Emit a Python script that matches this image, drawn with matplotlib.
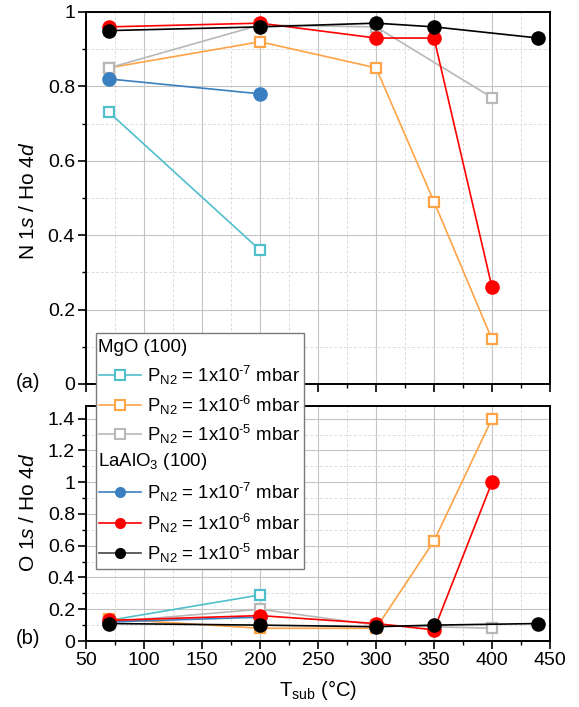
import matplotlib
matplotlib.use("Agg")
import matplotlib.pyplot as plt
from matplotlib.lines import Line2D
from matplotlib.patches import Rectangle
from matplotlib.ticker import MultipleLocator, FuncFormatter

plt.rcParams['font.family'] = ['Liberation Sans', 'DejaVu Sans']
plt.rcParams['mathtext.fontset'] = 'custom'
plt.rcParams['mathtext.rm'] = 'Liberation Sans'
plt.rcParams['mathtext.it'] = 'Liberation Sans:italic'
plt.rcParams['mathtext.bf'] = 'Liberation Sans:bold'

# ---------------- data ----------------
# N 1s / Ho 4d (panel a)
mgo7_T_a = [70, 200]
mgo7_a = [0.73, 0.36]
mgo6_T_a = [70, 200, 300, 350, 400]
mgo6_a = [0.85, 0.92, 0.85, 0.49, 0.12]
mgo5_T_a = [70, 200, 300, 400]
mgo5_a = [0.85, 0.965, 0.96, 0.77]
lao7_T_a = [70, 200]
lao7_a = [0.82, 0.78]
lao6_T_a = [70, 200, 300, 350, 400]
lao6_a = [0.96, 0.97, 0.93, 0.93, 0.26]
lao5_T_a = [70, 200, 300, 350, 440]
lao5_a = [0.95, 0.96, 0.97, 0.96, 0.93]

# O 1s / Ho 4d (panel b)
mgo7_T_b = [70, 200]
mgo7_b = [0.13, 0.29]
mgo6_T_b = [70, 200, 300, 350, 400]
mgo6_b = [0.14, 0.08, 0.08, 0.63, 1.40]
mgo5_T_b = [70, 200, 300, 400]
mgo5_b = [0.12, 0.20, 0.10, 0.08]
lao7_T_b = [70, 200]
lao7_b = [0.12, 0.15]
lao6_T_b = [70, 200, 300, 350, 400]
lao6_b = [0.13, 0.16, 0.11, 0.07, 1.00]
lao5_T_b = [70, 200, 300, 350, 440]
lao5_b = [0.11, 0.10, 0.09, 0.10, 0.11]

series_labels = [r'P$_{\mathrm{N2}}$ = 1x10$^{\text{-7}}$ mbar',
                 r'P$_{\mathrm{N2}}$ = 1x10$^{\text{-6}}$ mbar',
                 r'P$_{\mathrm{N2}}$ = 1x10$^{\text{-5}}$ mbar']
group_labels = ['MgO (100)', r'LaAlO$_3$ (100)']

c_cyan = '#4fbfcc'
c_orange = '#ffa347'
c_gray = '#b8b8b8'
c_blue = '#3a7fc0'
c_red = '#ff0000'
c_black = '#000000'

W, H = 579, 707
fig = plt.figure(figsize=(W / 100, H / 100), dpi=100)

def fx(px):
    return px / W

def fy(py):
    return 1 - py / H

ax1 = fig.add_axes([fx(86), fy(384), fx(550) - fx(86), fy(12) - fy(384)])
ax2 = fig.add_axes([fx(86), fy(641), fx(550) - fx(86), fy(406) - fy(641)])

sq = dict(marker='s', markersize=7.5, markerfacecolor='white', markeredgewidth=1.6, lw=1.2)
ci = dict(marker='o', markersize=10.5, markeredgewidth=0, lw=1.2)

def draw(ax, data):
    (t1, v1), (t2, v2), (t3, v3), (t4, v4), (t5, v5), (t6, v6) = data
    ax.plot(t1, v1, color=c_cyan, markeredgecolor=c_cyan, zorder=3, **sq)
    ax.plot(t2, v2, color=c_orange, markeredgecolor=c_orange, zorder=3, **sq)
    ax.plot(t3, v3, color=c_gray, markeredgecolor=c_gray, zorder=3, **sq)
    ax.plot(t4, v4, color=c_blue, markerfacecolor=c_blue, zorder=4, **ci)
    ax.plot(t5, v5, color=c_red, markerfacecolor=c_red, zorder=4, **ci)
    ax.plot(t6, v6, color=c_black, markerfacecolor=c_black, zorder=4, **ci)

draw(ax1, [(mgo7_T_a, mgo7_a), (mgo6_T_a, mgo6_a), (mgo5_T_a, mgo5_a),
           (lao7_T_a, lao7_a), (lao6_T_a, lao6_a), (lao5_T_a, lao5_a)])
draw(ax2, [(mgo7_T_b, mgo7_b), (mgo6_T_b, mgo6_b), (mgo5_T_b, mgo5_b),
           (lao7_T_b, lao7_b), (lao6_T_b, lao6_b), (lao5_T_b, lao5_b)])

fmt = FuncFormatter(lambda v, p: '%g' % round(v, 3))
for ax in (ax1, ax2):
    ax.set_xlim(50, 450)
    ax.xaxis.set_major_locator(MultipleLocator(50))
    ax.xaxis.set_minor_locator(MultipleLocator(25))
    ax.yaxis.set_major_locator(MultipleLocator(0.2))
    ax.yaxis.set_minor_locator(MultipleLocator(0.1))
    ax.yaxis.set_major_formatter(fmt)
    ax.grid(True, which='major', color='#c4c4c4', lw=0.8, ls='-', zorder=0)
    ax.grid(True, which='minor', color='#dcdcdc', lw=0.7, ls=(0, (3, 2)), zorder=0)
    ax.set_axisbelow(True)
    for s in ax.spines.values():
        s.set_linewidth(1.4)
    ax.tick_params(axis='both', which='major', direction='out', length=5.5, width=1.2,
                   labelsize=14, pad=2.5, top=False, right=False)
    ax.tick_params(axis='both', which='minor', direction='out', length=3, width=1.0,
                   top=False, right=False)

ax1.set_ylim(0, 1.0)
ax1.tick_params(axis='x', labelbottom=False)
ax2.set_ylim(0, 1.48)

fig.text(fx(28), fy(201), r'N 1$s$ / Ho 4$d$', fontsize=15,
         rotation=90, ha='center', va='center')
fig.text(fx(28), fy(512), r'O 1$s$ / Ho 4$d$', fontsize=15,
         rotation=90, ha='center', va='center')

fig.text(fx(318), fy(690), r'T$_{\mathrm{sub}}$ (°C)', fontsize=14.5, ha='center', va='center')
fig.text(fx(28), fy(382), '(a)', fontsize=14.5, ha='center', va='center')
fig.text(fx(28), fy(638), '(b)', fontsize=14.5, ha='center', va='center')

# ------------- legend (built manually) -------------
box = Rectangle((fx(96), fy(569)), fx(304) - fx(96), fy(333) - fy(569),
                transform=fig.transFigure, facecolor='white', edgecolor='#7a7a7a',
                lw=1.0, zorder=10)
fig.add_artist(box)

rows = [
    ('head', group_labels[0], 348, None),
    ('sq', series_labels[0], 375, c_cyan),
    ('sq', series_labels[1], 405, c_orange),
    ('sq', series_labels[2], 434, c_gray),
    ('head', group_labels[1], 462, None),
    ('ci', series_labels[0], 492, c_blue),
    ('ci', series_labels[1], 523, c_red),
    ('ci', series_labels[2], 553, c_black),
]
for kind, lab, py, col in rows:
    if kind == 'head':
        fig.text(fx(98), fy(py), lab, fontsize=13.4, ha='left', va='center', zorder=11)
        continue
    line_col = '#444444' if col == c_black else col
    ln = Line2D([fx(99), fx(141)], [fy(py), fy(py)], transform=fig.transFigure,
                color=line_col, lw=1.2, zorder=11)
    fig.add_artist(ln)
    if kind == 'sq':
        mk = Line2D([fx(120)], [fy(py)], transform=fig.transFigure, marker='s',
                    markersize=6.5, markerfacecolor='white', markeredgecolor=col,
                    markeredgewidth=1.5, lw=0, zorder=12)
    else:
        mk = Line2D([fx(120)], [fy(py)], transform=fig.transFigure, marker='o',
                    markersize=8, markerfacecolor=col, markeredgewidth=0, lw=0, zorder=12)
    fig.add_artist(mk)
    fig.text(fx(147), fy(py), lab, fontsize=13.4, ha='left', va='center', zorder=11)

fig.savefig('out.png', dpi=100)
